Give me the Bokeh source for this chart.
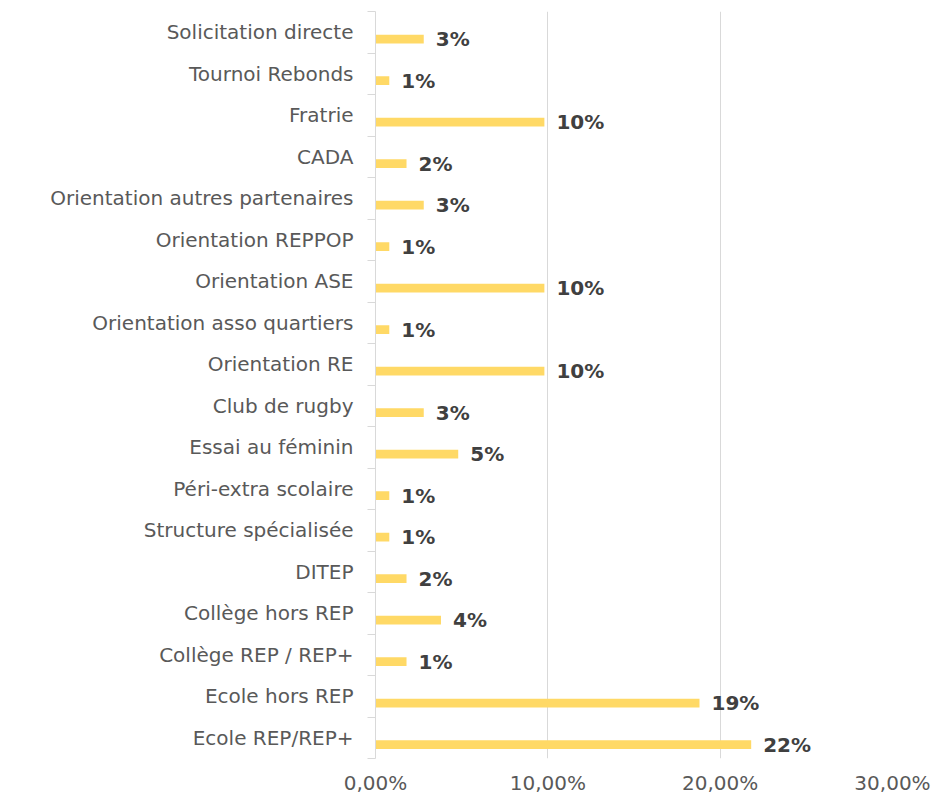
from bokeh.plotting import figure
from bokeh.models import (ColumnDataSource, Range1d, LinearAxis, FixedTicker)
from bokeh.transform import dodge
from bokeh.core.properties import value
from bokeh.embed import file_html
from bokeh.resources import INLINE

categories = ["Solicitation directe", "Tournoi Rebonds", "Fratrie", "CADA",
              "Orientation autres partenaires", "Orientation REPPOP",
              "Orientation ASE", "Orientation asso quartiers", "Orientation RE",
              "Club de rugby", "Essai au féminin", "Péri-extra scolaire",
              "Structure spécialisée", "DITEP", "Collège hors REP",
              "Collège REP / REP+", "Ecole hors REP", "Ecole REP/REP+"]
values = [2.8, 0.8, 9.8, 1.8, 2.8, 0.8, 9.8, 0.8, 9.8, 2.8, 4.8, 0.8, 0.8,
          1.8, 3.8, 1.8, 18.8, 21.8]
value_labels = ["3%", "1%", "10%", "2%", "3%", "1%", "10%", "1%", "10%", "3%",
                "5%", "1%", "1%", "2%", "4%", "1%", "19%", "22%"]
x_ticks = [0, 10, 20, 30]
x_tick_labels = ["0,00%", "10,00%", "20,00%", "30,00%"]

FONT = "DejaVu Sans"
n = len(categories)
centers = [n - i - 0.5 for i in range(n)]   # category slot centres, first on top
src = ColumnDataSource(dict(cat=categories, y=centers, val=values, lbl=value_labels))

p = figure(width=932, height=797, output_backend="svg", toolbar_location=None,
           y_range=Range1d(0, n), x_range=Range1d(0, x_ticks[-1]),
           y_axis_location=None,
           min_border_left=375, min_border_top=11, min_border_right=40,
           min_border_bottom=0)
p.outline_line_color = None
p.ygrid.grid_line_color = None
p.xgrid.grid_line_color = "#d9d9d9"
p.xgrid.grid_line_width = 1
p.xgrid.ticker = FixedTicker(ticks=x_ticks)

# axis line with tick marks between categories
tick_axis = LinearAxis(ticker=FixedTicker(ticks=list(range(n + 1))),
                       major_label_overrides={i: "" for i in range(n + 1)},
                       axis_line_color="#d9d9d9", major_tick_line_color="#d9d9d9",
                       major_tick_out=8, major_tick_in=0,
                       minor_tick_line_color=None, major_label_standoff=0,
                       major_label_text_font_size="1px")
p.add_layout(tick_axis, "left")

# category labels at slot centres
label_axis = LinearAxis(ticker=FixedTicker(ticks=centers),
                        major_label_overrides=dict(zip(centers, categories)),
                        axis_line_color=None, major_tick_line_color=None,
                        minor_tick_line_color=None, major_label_standoff=8,
                        major_label_text_font=FONT,
                        major_label_text_font_size="20px",
                        major_label_text_color="#595959")
p.add_layout(label_axis, "left")

xa = p.xaxis[0]
xa.ticker = FixedTicker(ticks=x_ticks)
xa.major_label_overrides = dict(zip(x_ticks, x_tick_labels))
xa.axis_line_color = None
xa.major_tick_line_color = None
xa.minor_tick_line_color = None
xa.major_label_standoff = 6
xa.major_label_text_font = FONT
xa.major_label_text_font_size = "20px"
xa.major_label_text_color = "#595959"

ypos = dodge("y", -0.165)
p.hbar(y=ypos, left=0, right="val", height=0.207, source=src,
       fill_color="#FFD966", line_color=None)
p.text(x="val", y=ypos, text="lbl", source=src, x_offset=12,
       text_baseline="middle", text_align="left", text_font=value(FONT),
       text_font_style="bold", text_font_size="20px", text_color="#404040")

open("out.html", "w").write(file_html(p, INLINE))
